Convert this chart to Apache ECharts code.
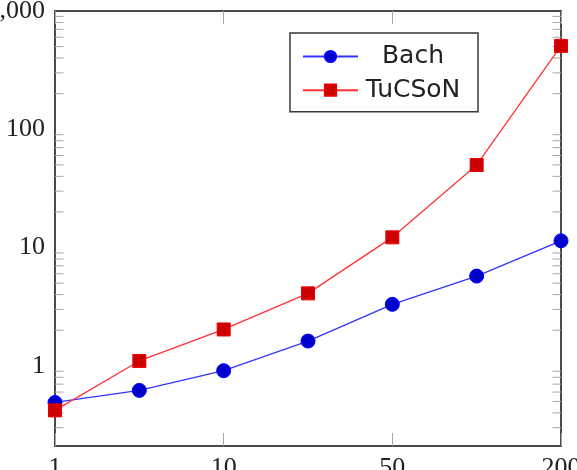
<!DOCTYPE html>
<html>
<head>
<meta charset="utf-8">
<script src="https://cdn.jsdelivr.net/npm/echarts@6/dist/echarts.min.js"></script>
<style>
html,body{margin:0;padding:0;background:#fff;}
#c{width:577px;height:470px;}
</style>
</head>
<body>
<div id="c"></div>
<script>
const categories = ['1', '5', '10', '20', '50', '100', '200'];
const bachValues = [0.49, 0.62, 0.91, 1.62, 3.31, 5.74, 11.4];
const tucsonValues = [0.42, 1.10, 2.03, 4.10, 12.2, 49.9, 507];
const yMajorTicks = [1, 10, 100, 1000];
const yMinorTicks = [0.3,0.4,0.5,0.6,0.7,0.8,0.9, 2,3,4,5,6,7,8,9, 20,30,40,50,60,70,80,90, 200,300,400,500,600,700,800,900];
const yMin = 0.21, yMax = 1000;

const chart = echarts.init(document.getElementById('c'), null, {renderer: 'canvas'});
const frame = {color: '#4a4a4a', width: 2};
const tickStyle = {color: '#a8a8a8', width: 1};
const serif = 'Liberation Serif';

function yLabel(v) {
  const l = Math.log10(v);
  if (Math.abs(l - Math.round(l)) > 1e-6) return '';
  const r = Math.round(Math.pow(10, Math.round(l)));
  if (!yMajorTicks.includes(r)) return '';
  return r.toLocaleString('en-US');
}

chart.setOption({
  animation: false,
  backgroundColor: '#fff',
  grid: {left: 55, right: 16, top: 11, bottom: 24, containLabel: false, outerBoundsMode: 'none'},
  legend: {
    orient: 'vertical', left: 290, top: 33,
    padding: [11, 15, 9, 12],
    itemWidth: 55, itemHeight: 14, itemGap: 8.7,
    backgroundColor: '#fff', borderColor: '#3a3a3a', borderWidth: 1.5,
    formatter: '{a|{name}}',
    textStyle: {
      color: '#222', fontFamily: 'DejaVu Sans', fontSize: 25,
      rich: {a: {width: 100, align: 'center', lineHeight: 28, fontSize: 25, fontFamily: 'DejaVu Sans', color: '#222'}}
    },
    data: ['Bach', 'TuCSoN']
  },
  xAxis: [
    {type: 'category', data: categories, boundaryGap: false, position: 'bottom',
     axisLine: {lineStyle: frame, onZero: false},
     axisTick: {inside: true, length: 13, interval: 1, lineStyle: tickStyle},
     axisLabel: {interval: 1, margin: 9, color: '#222', fontFamily: serif, fontSize: 26},
     splitLine: {show: false}},
    {type: 'category', data: categories, boundaryGap: false, position: 'top',
     axisLine: {lineStyle: frame, onZero: false},
     axisTick: {inside: true, length: 13, interval: 1, lineStyle: tickStyle},
     axisLabel: {show: false}, splitLine: {show: false}}
  ],
  yAxis: [
    {type: 'log', logBase: 10, min: yMin, max: yMax, position: 'left',
     axisLine: {show: true, lineStyle: frame},
     axisTick: {inside: true, length: 13, lineStyle: tickStyle},
     axisLabel: {margin: 10, color: '#222', fontFamily: serif, fontSize: 26, showMinLabel: false, formatter: yLabel},
     splitLine: {show: false}},
    {type: 'log', logBase: 10, min: yMin, max: yMax, position: 'right',
     axisLine: {show: true, lineStyle: frame},
     axisTick: {inside: true, length: 13, lineStyle: tickStyle},
     axisLabel: {show: false}, splitLine: {show: false}}
  ],
  series: [
    {name: 'Bach', type: 'line', data: bachValues, xAxisIndex: 0, yAxisIndex: 0,
     symbol: 'circle', symbolSize: 14,
     itemStyle: {color: '#0000cc', borderColor: '#0000ff', borderWidth: 1},
     lineStyle: {color: '#3333ff', width: 1.3}, z: 3},
    {name: 'TuCSoN', type: 'line', data: tucsonValues, xAxisIndex: 0, yAxisIndex: 0,
     symbol: 'rect', symbolSize: 13,
     itemStyle: {color: '#cc0000', borderColor: '#ee0000', borderWidth: 1},
     lineStyle: {color: '#ff3333', width: 1.3}, z: 4}
  ]
});

// minor ticks placed through the axis scale
const xl = chart.convertToPixel({xAxisIndex: 0}, categories[0]);
const xr = chart.convertToPixel({xAxisIndex: 0}, categories[categories.length - 1]);
const g = [];
yMinorTicks.forEach(v => {
  const y = chart.convertToPixel({yAxisIndex: 0}, v);
  g.push({type: 'line', shape: {x1: xl, y1: y, x2: xl + 8.5, y2: y}, style: {stroke: '#a8a8a8', lineWidth: 1}, z: 1});
  g.push({type: 'line', shape: {x1: xr - 8.5, y1: y, x2: xr, y2: y}, style: {stroke: '#a8a8a8', lineWidth: 1}, z: 1});
});
chart.setOption({graphic: g});
</script>
</body>
</html>
